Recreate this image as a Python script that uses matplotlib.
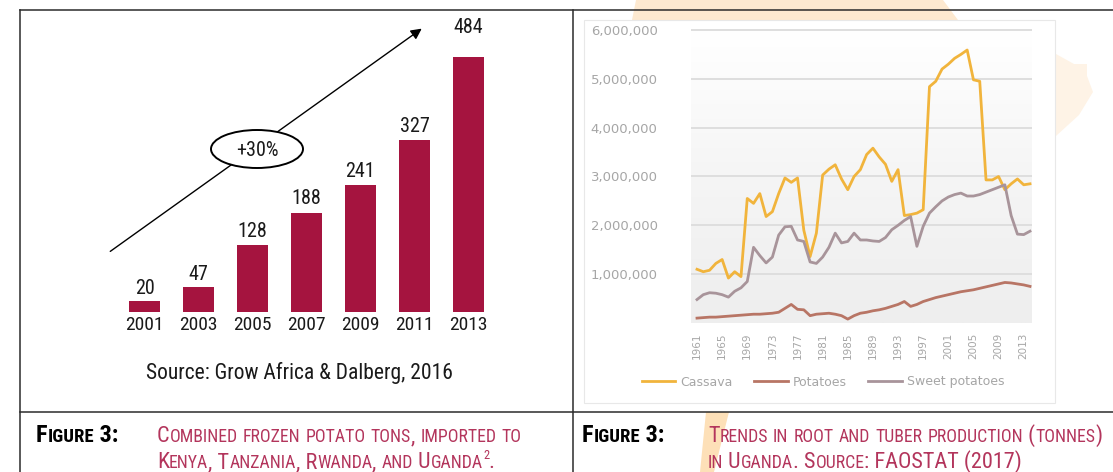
import numpy as np
import matplotlib
matplotlib.use('Agg')
import matplotlib.pyplot as plt
from matplotlib.patches import Ellipse, Polygon, Rectangle
from matplotlib.colors import LinearSegmentedColormap

W, H = 1113, 472
NARROW = ['Roboto Condensed', 'DejaVu Sans']

# left panel: frozen potato imports (tons)
bar_years = ['2001', '2003', '2005', '2007', '2009', '2011', '2013']
bar_tons = [20, 47, 128, 188, 241, 327, 484]
label_lift = [13, 13, 13, 14, 13, 13, 29]   # px above bar top

# right panel: Uganda root & tuber production (million tonnes), 1961-2014
years = list(range(1961, 2015))
cassava = [1.10, 1.05, 1.08, 1.22, 1.30, 0.92, 1.05, 0.95, 2.55, 2.45,
           2.65, 2.18, 2.28, 2.65, 2.97, 2.88, 2.97, 1.90, 1.36, 1.84,
           3.03, 3.15, 3.24, 2.95, 2.73, 3.00, 3.14, 3.45, 3.58, 3.40,
           3.25, 2.90, 3.14, 2.20, 2.22, 2.25, 2.32, 4.84, 4.95, 5.20,
           5.30, 5.42, 5.50, 5.59, 4.98, 4.95, 2.93, 2.93, 3.00, 2.73,
           2.85, 2.95, 2.83, 2.85]
potatoes = [0.10, 0.11, 0.12, 0.12, 0.13, 0.14, 0.15, 0.16, 0.17, 0.18,
            0.18, 0.19, 0.20, 0.22, 0.30, 0.38, 0.28, 0.27, 0.15, 0.18,
            0.19, 0.20, 0.18, 0.15, 0.08, 0.15, 0.20, 0.22, 0.25, 0.27,
            0.30, 0.34, 0.38, 0.44, 0.34, 0.38, 0.44, 0.48, 0.52, 0.55,
            0.58, 0.61, 0.64, 0.66, 0.68, 0.71, 0.74, 0.77, 0.80, 0.83,
            0.82, 0.80, 0.78, 0.75]
sweet_potatoes = [0.48, 0.58, 0.62, 0.61, 0.58, 0.53, 0.65, 0.72, 0.85, 1.55,
                  1.38, 1.23, 1.35, 1.80, 1.97, 1.98, 1.70, 1.67, 1.25, 1.22,
                  1.35, 1.55, 1.84, 1.64, 1.67, 1.84, 1.70, 1.70, 1.68, 1.67,
                  1.75, 1.91, 2.00, 2.10, 2.18, 1.57, 1.98, 2.25, 2.38, 2.50,
                  2.58, 2.63, 2.66, 2.60, 2.60, 2.63, 2.68, 2.73, 2.78, 2.83,
                  2.20, 1.82, 1.81, 1.88]
series_names = ['Cassava', 'Potatoes', 'Sweet potatoes']

fig = plt.figure(figsize=(W / 100, H / 100), dpi=100)
fig.patch.set_facecolor('white')


def px_axes(x0, y0, x1, y1):
    return fig.add_axes([x0 / W, 1 - y1 / H, (x1 - x0) / W, (y1 - y0) / H])


# background layer in pixel coords
bg = px_axes(0, 0, W, H)
bg.set_xlim(0, W)
bg.set_ylim(H, 0)
bg.axis('off')
bg.set_zorder(0)

# faint watermark bits
bg.add_patch(Polygon([(636, 0), (943, 0), (958, 20), (632, 20)], color='#fde9d0', lw=0))
bg.add_patch(Polygon([(706, 412), (729, 412), (714, 472), (700, 472)], color='#fde0b8', lw=0))
bg.add_patch(Polygon([(1056, 54), (1074, 64), (1087, 64), (1087, 76), (1093, 92),
                      (1079, 115), (1056, 136)], color='#fef3e6', lw=0))

# embedded picture frame
bg.add_patch(Rectangle((584, 20), 471, 383, facecolor='white', edgecolor='#e8e8e8', lw=0.8))

# table borders
bc = '#2b2b2b'
bg.plot([20, W], [9.5, 9.5], color=bc, lw=1.1)
bg.plot([20, 20], [9.5, H], color=bc, lw=1.1)
bg.plot([572.5, 572.5], [9.5, H], color=bc, lw=1.1)
bg.plot([20, W], [412, 412], color=bc, lw=1.1)

# growth arrow + ellipse
bg.annotate('', xy=(424, 27), xytext=(108, 253),
            arrowprops=dict(arrowstyle='-|>', color='black', lw=1, mutation_scale=16))
bg.add_patch(Ellipse((257, 149), 92, 38, facecolor='white', edgecolor='black', lw=1.4, zorder=3))
bg.text(257, 150, '+30%', ha='center', va='center', fontsize=14.5, family=NARROW,
        color='#1a1a1a', zorder=4)

bg.text(299, 373, 'Source: Grow Africa & Dalberg, 2016', ha='center', va='center',
        fontsize=15.5, family=NARROW, color='#1a1a1a')

# ---- bar chart ----
ax = px_axes(117.5, 48.5, 495.5, 312)
ax.patch.set_alpha(0)
x = np.arange(len(bar_tons))
ax.bar(x, bar_tons, width=0.57, color='#a5143f')
for i, v in enumerate(bar_tons):
    ax.annotate(str(v), (i, v), xytext=(0, label_lift[i]), textcoords='offset pixels',
                ha='center', va='center', fontsize=14.5, family=NARROW, color='#1a1a1a')
ax.set_xlim(-0.5, len(bar_tons) - 0.5)
ax.set_ylim(0, 500)
ax.set_xticks(x)
ax.set_xticklabels(bar_years, fontsize=14, family=NARROW, color='#1a1a1a')
ax.tick_params(axis='x', length=0, pad=3)
ax.set_yticks([])
for s in ax.spines.values():
    s.set_visible(False)

# ---- line chart ----
lx = px_axes(691, 25, 1032, 330)
lx.set_zorder(2)
lx.patch.set_alpha(0)
xl = (1961 - 6 / 6.283, 2014 + 2 / 6.283)
yl = (-7 / 48.83 * 1e6, (6 + 5 / 48.83) * 1e6)
grad = LinearSegmentedColormap.from_list('g', ['#eeeeee', '#f5f5f5', '#ffffff'])
lx.imshow(np.linspace(0, 1, 100).reshape(-1, 1), cmap=grad, origin='lower', aspect='auto',
          extent=[xl[0], xl[1], 0, 6e6], zorder=0)
lx.set_xlim(*xl)
lx.set_ylim(*yl)
for yv in range(1, 7):
    lx.axhline(yv * 1e6, color='#dedede', lw=1.4, zorder=1)
cols = ['#f1b43c', '#b87565', '#a8949a']
for vals, name, c in zip([cassava, potatoes, sweet_potatoes], series_names, cols):
    lx.plot(years, np.array(vals) * 1e6, color=c, lw=2, label=name, zorder=3)
tick_grey = '#a6a6a6'
lx.set_yticks([v * 1e6 for v in range(1, 7)])
lx.set_yticklabels(['{:,}'.format(v * 1000000) for v in range(1, 7)], fontsize=9.5, color=tick_grey)
lx.set_xticks(years[::4])
lx.set_xticklabels([str(y) for y in years[::4]], rotation=90, fontsize=7.5, color=tick_grey)
lx.tick_params(length=0)
lx.tick_params(axis='y', pad=24)
lx.tick_params(axis='x', pad=2)
for s in lx.spines.values():
    s.set_visible(False)
lx.legend(loc='center', bbox_to_anchor=(823 / W, 1 - 382 / H), bbox_transform=fig.transFigure,
          ncol=3, frameon=False, fontsize=9, handlelength=2.7, handletextpad=0.4,
          columnspacing=1.7, labelcolor=tick_grey)

# ---- captions in small caps ----
renderer = fig.canvas.get_renderer()


def small_caps(x, y, s, big, small, color, weight='normal'):
    runs = []
    for ch in s:
        low = ch.islower()
        size = small if low else big
        if runs and runs[-1][1] == size:
            runs[-1][0] += ch.upper()
        else:
            runs.append([ch.upper(), size])
    for txt, size in runs:
        t = bg.text(x, y, txt, fontsize=size, color=color, weight=weight,
                    family=NARROW, va='baseline', ha='left')
        x += t.get_window_extent(renderer=renderer).width
    return x


red = '#b3355c'
small_caps(36, 442, 'Figure 3:', 17.5, 13.5, 'black', 'bold')
small_caps(157, 442, 'Combined frozen potato tons, imported to', 16, 12.8, red)
xe = small_caps(157, 468, 'Kenya, Tanzania, Rwanda, and Uganda', 16, 12.8, red)
bg.text(xe + 0.5, 459, '2', fontsize=9, color=red, family=NARROW, va='baseline')
small_caps(xe + 6, 468, '.', 16, 12.8, red)
small_caps(582, 442, 'Figure 3:', 17.5, 13.5, 'black', 'bold')
small_caps(708, 442, 'Trends in root and tuber production (tonnes)', 16, 12.8, red)
small_caps(708, 468, 'in Uganda. Source: FAOSTAT (2017)', 16, 12.8, red)

fig.savefig('out.png', dpi=100)
